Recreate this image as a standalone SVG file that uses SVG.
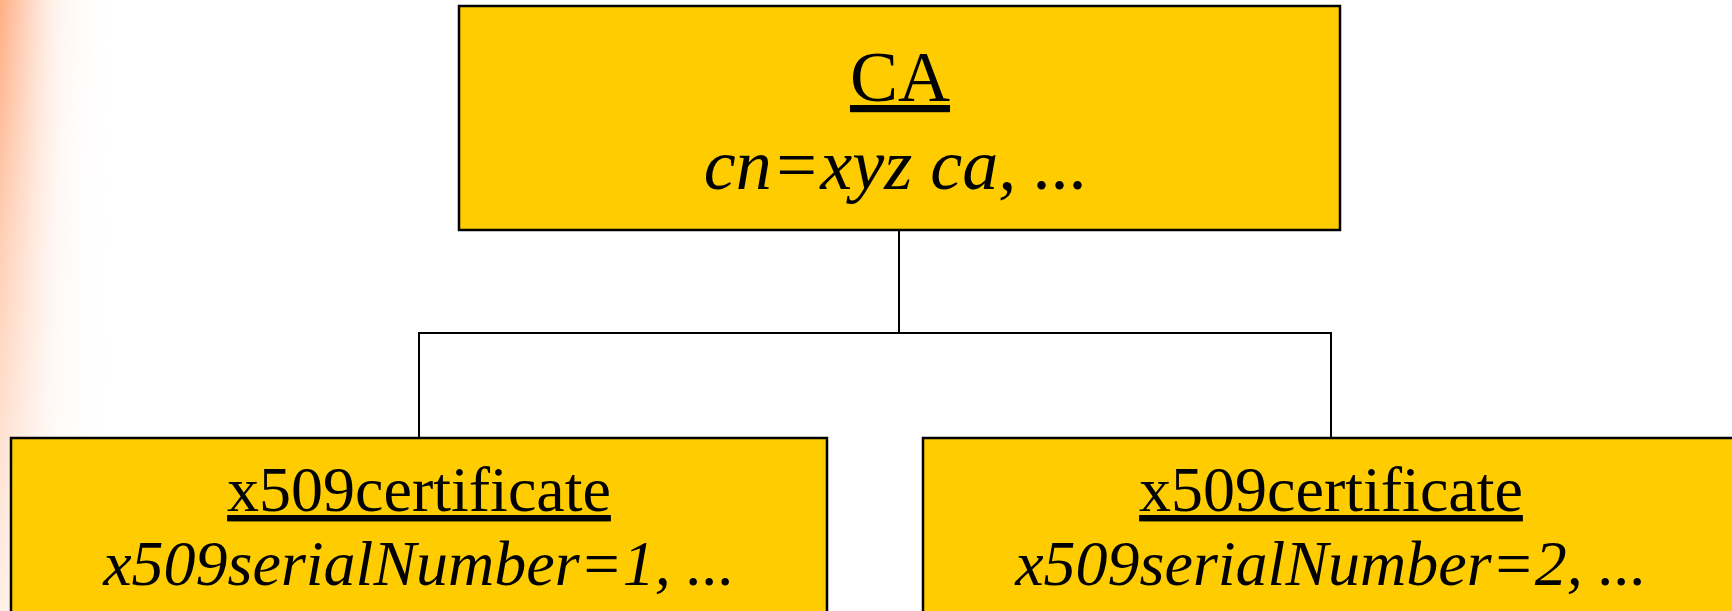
<svg xmlns="http://www.w3.org/2000/svg" width="1732" height="611" viewBox="0 0 1732 611">
  <defs>
    <linearGradient id="glowH" x1="0" y1="0" x2="115" y2="0" gradientUnits="userSpaceOnUse">
      <stop offset="0" stop-color="#FFA06C" stop-opacity="0.85"/>
      <stop offset="0.2" stop-color="#FFAC82" stop-opacity="0.6"/>
      <stop offset="0.5" stop-color="#FFD6C0" stop-opacity="0.28"/>
      <stop offset="0.8" stop-color="#FFF0E8" stop-opacity="0.08"/>
      <stop offset="1" stop-color="#FFFFFF" stop-opacity="0"/>
    </linearGradient>
    <linearGradient id="fadeV" x1="0" y1="0" x2="0" y2="611" gradientUnits="userSpaceOnUse">
      <stop offset="0" stop-color="#FFFFFF"/>
      <stop offset="0.4" stop-color="#FFFFFF" stop-opacity="0.6"/>
      <stop offset="0.75" stop-color="#FFFFFF" stop-opacity="0.35"/>
      <stop offset="1" stop-color="#FFFFFF" stop-opacity="0.2"/>
    </linearGradient>
    <mask id="glowMask">
      <rect x="0" y="0" width="130" height="611" fill="url(#fadeV)"/>
    </mask>
    <style>
      .box { fill: #FFCC00; stroke: #000000; stroke-width: 2.5; }
      .conn { fill: none; stroke: #000000; stroke-width: 2; }
      .title { font-family: "Liberation Serif", "Times New Roman", serif; fill: #000000; text-anchor: middle; text-decoration: underline; }
      .attr { font-family: "Liberation Serif", "Times New Roman", serif; font-style: italic; fill: #000000; text-anchor: middle; }
    </style>
  </defs>

  <rect x="0" y="0" width="1732" height="611" fill="#FFFFFF"/>
  <rect x="0" y="0" width="130" height="611" fill="url(#glowH)" mask="url(#glowMask)"/>

  <g id="connectors">
    <path class="conn" d="M899,230 V333"/>
    <path class="conn" d="M419,437 V333 H1331 V437"/>
  </g>

  <g id="node-ca">
    <rect class="box" x="459" y="6" width="881" height="224"/>
    <text class="title" x="900" y="101" font-size="72">CA</text>
    <text class="attr" x="896" y="189" font-size="72">cn=xyz ca, ...</text>
  </g>

  <g id="node-cert1">
    <rect class="box" x="11" y="438" width="816" height="200"/>
    <text class="title" x="419" y="511" font-size="64">x509certificate</text>
    <text class="attr" x="419" y="585" font-size="64">x509serialNumber=1, ...</text>
  </g>

  <g id="node-cert2">
    <rect class="box" x="923" y="438" width="818" height="200"/>
    <text class="title" x="1331" y="511" font-size="64">x509certificate</text>
    <text class="attr" x="1331" y="585" font-size="64">x509serialNumber=2, ...</text>
  </g>
</svg>
